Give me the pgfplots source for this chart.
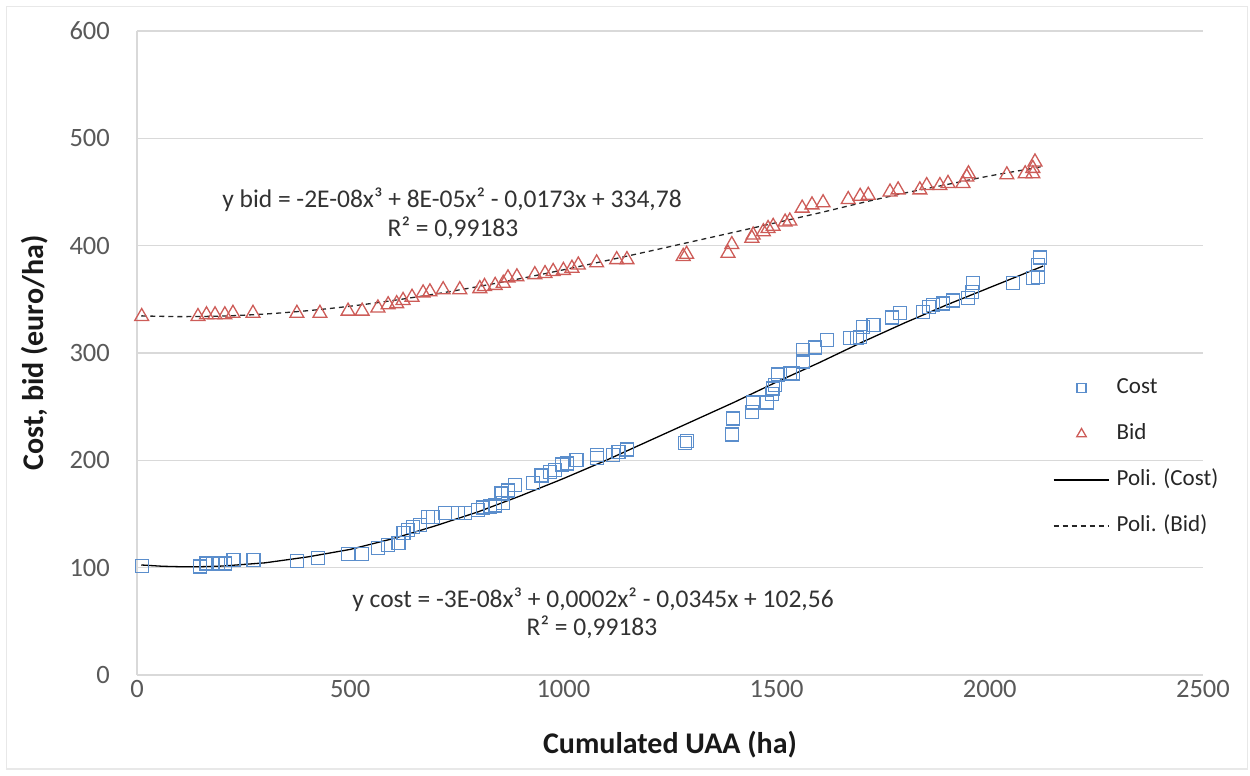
\documentclass[border=0pt]{standalone}
\usepackage{fontspec}
\setmainfont{Carlito}
\usepackage{pgfplots}
\usepackage{pgfplotstable}
\pgfplotsset{compat=1.18}
\definecolor{costblue}{RGB}{91,142,204}
\definecolor{bidred}{RGB}{205,92,88}
\definecolor{gridgray}{RGB}{217,217,217}
\definecolor{ticktxt}{RGB}{89,89,89}
\definecolor{eqtxt}{RGB}{50,50,50}

\pgfplotsset{
  costleg/.style={legend image code/.code={\path (0pt,0pt) (55pt,0pt); \draw[##1, mark size=4.5pt] plot coordinates {(28pt,0pt)};}},
  bidleg/.style={legend image code/.code={\path (0pt,0pt) (55pt,0pt); \draw[##1, mark size=5.5pt] plot coordinates {(28pt,0pt)};}},
  lineleg/.style={legend image code/.code={\draw[##1] (0pt,0pt) -- (55pt,0pt);}},
}

\pgfplotstableread{
x y
11 101.6
148 101
163 104
179 104
190 104
206 104
226 107
273 107
375 106
425 109
495 113
527 113
566 118
589 121
613 123
625 132
636 135
648 138
664 140
683 147
695 147
722 151
753 151
769 151
800 154
812 156
828 157
840 158
855 169
859 160
870 172
886 177
929 179
949 186
969 189
980 191
996 196
1008 197
1031 200
1078 202
1078 205
1117 205
1129 208
1149 210
1285 216
1290 218
1395 224
1397 239
1442 245
1445 254
1477 254
1489 262
1492 267
1496 270
1503 280
1531 281
1539 281
1562 292
1562 303
1590 305
1618 312
1672 314
1688 314
1696 315
1703 324
1727 326
1771 333
1789 337
1843 338
1857 343
1867 345
1890 346
1914 349
1949 351
1958 357
1961 365
2055 365
2101 370
2113 371
2113 382
2118 389
}\costdata

\pgfplotstableread{
x y
11 334
143 334
163 335.6
183 335.6
206 335.6
225 337
272 337
375 337
429 337
495 339
528 339
565 342
589 345
609 346
624 349
645 352
671 356
687 357
718 359
757 359
804 360
815 362
840 363
859 365
870 370
891 371
933 373
957 374
976 376
1000 377
1020 379
1035 382
1078 384
1125 387
1149 387
1281 390
1289 392
1386 393
1395 401
1442 407
1445 410
1469 413
1480 416
1492 418
1520 422
1531 423
1560 435
1583 438
1609 440
1668 443
1696 446
1715 447
1766 450
1785 452
1836 452
1852 456
1883 456
1902 458
1937 458
1946 464
1950 467
2040 466
2083 467
2101 467
2101 472
2106 478
}\biddata

\pgfplotstableread{
x y
10 102.5
60 101.3
100 100.9
150 100.9
200 101.5
300 104.5
400 110
500 117
600 127
700 139
800 152
900 167
1000 183
1100 200
1200 218
1300 236
1400 254
1500 273
1600 291
1700 310
1800 328
1900 345
2000 361
2100 377
2125 381
}\costtrend

\pgfplotstableread{
x y
10 334.6
100 333.9
200 334.4
300 336.3
400 339.4
500 343.6
600 348.9
700 355.0
800 361.9
900 369.4
1000 377.5
1100 386.0
1200 394.7
1300 403.6
1400 412.5
1500 421.5
1600 430.5
1700 440
1800 449
1900 457
2000 465
2100 472
2125 474
}\bidtrend

\begin{document}
\begin{tikzpicture}[x=1pt,y=1pt]
\path[use as bounding box] (-137,-101) rectangle (1113,675);
\draw[gridgray!60, line width=1pt] (-130,-94) rectangle (1110,668);
\begin{axis}[
  at={(0pt,0pt)}, anchor=south west,
  scale only axis, width=1066pt, height=644pt,
  xmin=0, xmax=2500, ymin=0, ymax=600,
  xtick={0,500,1000,1500,2000,2500},
  ytick={0,100,200,300,400,500,600},
  ymajorgrids, grid style={gridgray, line width=1.3pt},
  axis line style={draw=none}, tick style={draw=none},
  major tick length=0pt,
  clip=false,
  scaled ticks=false,
  /pgf/number format/assume math mode=true,
  /pgf/number format/set thousands separator={},
  ticklabel style={font=\fontsize{26.5}{30}\selectfont, text=ticktxt},
  xticklabel style={anchor=north, inner sep=0pt, yshift=-5pt},
  yticklabel style={anchor=east, inner sep=0pt, xshift=-27pt},
  xlabel={Cumulated UAA (ha)},
  ylabel={Cost, bid (euro/ha)},
  every axis x label/.style={at={(axis description cs:0.5,-0.1087)}, anchor=center, font=\fontsize{30}{34}\selectfont\bfseries, text=black!90},
  every axis y label/.style={at={(axis description cs:-0.0957,0.5)}, anchor=center, rotate=90, font=\fontsize{30}{34}\selectfont\bfseries, text=black!90},
  legend style={at={(axis description cs:0.859,0.3385)}, anchor=west, draw=none, fill=none,
    font=\fontsize{23}{27}\selectfont, text=black!85, inner sep=0pt,
    row sep=25pt, cells={anchor=west},
    nodes={inner xsep=7.5pt, inner ysep=0pt, text height=16pt, text depth=5pt}},
]
\draw[gridgray, line width=1.3pt] (axis cs:0,0) -- (axis cs:0,600);
\addplot[only marks, mark=square, mark size=6.5pt, costblue, line width=1.3pt, costleg]
  table[x=x,y=y] {\costdata};
\addlegendentry{Cost}
\addplot[only marks, mark=triangle, mark size=8pt, bidred, line width=1.3pt, bidleg]
  table[x=x,y=y] {\biddata};
\addlegendentry{Bid}
\addplot[no marks, black, line width=1.3pt, lineleg]
  table[x=x,y=y] {\costtrend};
\addlegendentry{Poli. (Cost)}
\addplot[no marks, smooth, black!85, line width=1.3pt, dash pattern=on 5pt off 4pt, lineleg]
  table[x=x,y=y] {\bidtrend};
\addlegendentry{Poli. (Bid)}
\end{axis}
\node[font=\fontsize{25.5}{29}\selectfont, text=eqtxt, inner sep=0pt] at (315,475) {y bid = -2E-08x³ + 8E-05x² - 0,0173x + 334,78};
\node[font=\fontsize{25.5}{29}\selectfont, text=eqtxt, inner sep=0pt] at (316,447) {R² = 0,99183};
\node[font=\fontsize{25.5}{29}\selectfont, text=eqtxt, inner sep=0pt] at (456,75) {y cost = -3E-08x³ + 0,0002x² - 0,0345x + 102,56};
\node[font=\fontsize{25.5}{29}\selectfont, text=eqtxt, inner sep=0pt] at (455,48) {R² = 0,99183};
\end{tikzpicture}
\end{document}
